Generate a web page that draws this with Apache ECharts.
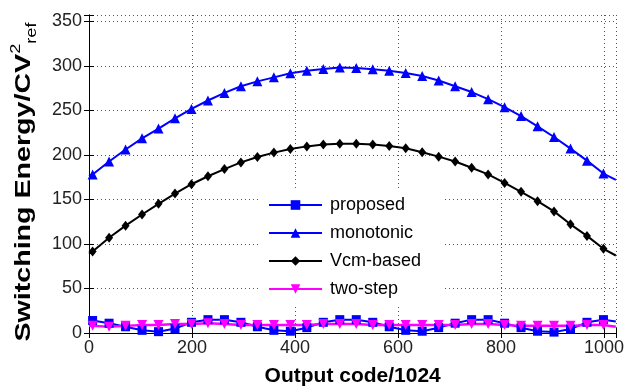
<!DOCTYPE html>
<html><head><meta charset="utf-8">
<script src="https://cdn.jsdelivr.net/npm/echarts@6/dist/echarts.min.js"></script>
<style>html,body{margin:0;padding:0;background:#fff}#c{width:627px;height:392px}</style>
</head><body><div id="c"></div>
<script>
// x positions (output code); first and last entries are line ends without markers
const codes = [0,7,39,71,103,135,167,199,231,263,295,327,359,391,423,455,487,519,551,583,615,647,679,711,743,775,807,839,871,903,935,967,999,1023];
const proposed = [13,14,11,7,3,1.5,5,12,15,15,12,7,3,2,6,12,15,15,12,7,3,2,6,11,15,15,11,6,2,1,4.5,12,15,13];
const monotonic = [176,178,192.5,206,218.5,229.5,241,251.5,261,269.5,277,282.5,287,291.5,294.5,296.5,298,297.5,296,294.5,292,288.5,283.5,277,270.5,262.5,253.5,243.5,232,220,207,193.5,179,172];
const vcmBased = [89,91.5,107,120.5,133,145,156.5,167,176,184,191.5,197.5,202.5,206.5,209.5,211.5,212.5,212.5,211.5,210,207.5,203,198,192.5,185.5,178,168.5,158.5,148,136.5,122,109,94.5,87];
const twoStep = [8,8,7,8,9,9,10,10,11,10,9,9,9,9,9,10,10,10,9,9,9,9,9,9,10,10,9,8,8,8,8,9,9,7];
const seriesNames = ['proposed','monotonic','Vcm-based','two-step'];
const xTicks = [0,200,400,600,800,1000];
const yTicks = [0,50,100,150,200,250,300,350];
const xTitle = 'Output code/1024';
const yTitle = 'Switching Energy/CV{sup|2}{sub|ref}';

const FONT = "'Liberation Sans', Arial, sans-serif";
function build(vals){
  return codes.map((c,i)=>{
    const d = {value:[c, vals[i]]};
    if (i===0 || i===codes.length-1) d.symbol = 'none';
    return d;
  });
}
const chart = echarts.init(document.getElementById('c'));
const gridLine = {show:true, lineStyle:{color:'#555', width:1, type:[1,3]}};
chart.setOption({
  animation:false,
  backgroundColor:'#fff',
  grid:{left:89, right:7, top:15, bottom:55, containLabel:false},
  legend:{
    orient:'vertical', left:260, top:191,
    backgroundColor:'#fff', padding:[4,22,6,8],
    itemWidth:53, itemHeight:12, itemGap:8,
    textStyle:{fontSize:18, lineHeight:20, color:'#000', fontFamily:FONT, padding:[0,0,0,3]},
    data:seriesNames
  },
  graphic:[{
    type:'text', x:24, y:182, rotation:Math.PI/2, scaleX:1.3, z:10,
    style:{
      text:yTitle, fill:'#000', fontSize:22, fontWeight:'bold', fontFamily:FONT,
      align:'center', verticalAlign:'middle', lineHeight:30,
      rich:{
        sup:{fontSize:14, fontWeight:'normal', fill:'#000', fontFamily:FONT, verticalAlign:'top'},
        sub:{fontSize:14, fontWeight:'normal', fill:'#000', fontFamily:FONT, verticalAlign:'bottom'}
      }
    }
  }],
  xAxis:[{
    type:'value', min:0, max:1024, interval:200, position:'bottom',
    name:xTitle, nameLocation:'middle', nameGap:33,
    nameTextStyle:{fontSize:21, fontWeight:'bold', color:'#000', fontFamily:FONT},
    axisLine:{show:true, lineStyle:{color:'#000', width:1}},
    axisTick:{show:true, inside:true, length:5, lineStyle:{color:'#000'}},
    axisLabel:{fontSize:18, color:'#222', fontFamily:FONT, margin:6,
      formatter:v=> xTicks.includes(v) ? String(v) : ''},
    splitLine:gridLine
  },{
    type:'value', min:0, max:1024, interval:200, position:'top',
    axisLine:{show:true, lineStyle:{color:'#000', width:1}},
    axisTick:{show:true, inside:true, length:5, lineStyle:{color:'#000'}},
    axisLabel:{show:false}, splitLine:{show:false}
  }],
  yAxis:[{
    type:'value', min:0, max:357, interval:50, position:'left',
    axisLine:{show:true, lineStyle:{color:'#000', width:1}},
    axisTick:{show:true, inside:true, length:5, lineStyle:{color:'#000'}},
    axisLabel:{fontSize:18, color:'#222', fontFamily:FONT, margin:7,
      formatter:v=> yTicks.includes(v) ? String(v) : ''},
    splitLine:gridLine
  },{
    type:'value', min:0, max:357, interval:50, position:'right',
    axisLine:{show:true, lineStyle:{color:'#000', width:1}},
    axisTick:{show:true, inside:true, length:5, lineStyle:{color:'#000'}},
    axisLabel:{show:false}, splitLine:{show:false}
  }],
  series:[
    {name:seriesNames[0], type:'line', data:build(proposed), symbol:'rect', symbolSize:9,
      lineStyle:{color:'#0000ff', width:2}, itemStyle:{color:'#0000ff'}},
    {name:seriesNames[1], type:'line', data:build(monotonic), symbol:'triangle', symbolSize:10,
      lineStyle:{color:'#0000ff', width:2}, itemStyle:{color:'#0000ff'}},
    {name:seriesNames[2], type:'line', data:build(vcmBased), symbol:'diamond', symbolSize:[8,10],
      lineStyle:{color:'#000', width:2}, itemStyle:{color:'#000'}},
    {name:seriesNames[3], type:'line', data:build(twoStep), symbol:'triangle', symbolRotate:180, symbolSize:10,
      lineStyle:{color:'#ff00ff', width:2.5}, itemStyle:{color:'#ff00ff'}}
  ]
});
</script></body></html>
